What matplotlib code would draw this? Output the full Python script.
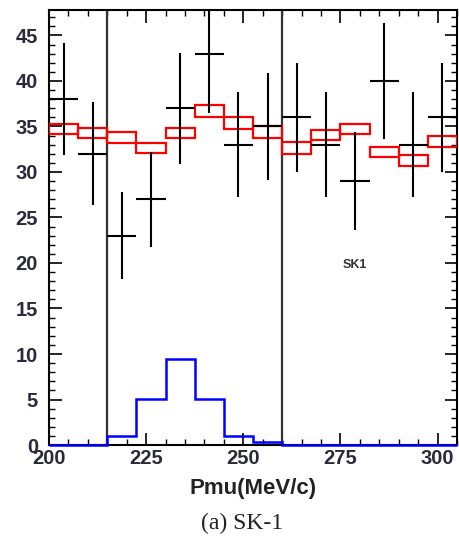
import numpy as np
import matplotlib
matplotlib.use("Agg")
import matplotlib.pyplot as plt
from matplotlib.ticker import MultipleLocator
from matplotlib.font_manager import FontProperties

# Bin edges (MeV/c)
bin_edges = [200, 207.5, 215, 222.5, 230, 237.5, 245, 252.5, 260, 267.5, 275, 282.5, 290, 297.5, 305]
# Observed data counts
data_counts = [38, 32, 23, 27, 37, 43, 33, 35, 36, 33, 29, 40, 33, 36]
# Background MC expectation (box centre) and half-height
mc_center = [34.75, 34.25, 33.8, 32.65, 34.25, 36.7, 35.35, 34.4, 32.65, 34.05, 34.75, 32.15, 31.3, 33.35]
mc_half = [0.55, 0.55, 0.6, 0.55, 0.55, 0.7, 0.65, 0.7, 0.65, 0.55, 0.55, 0.55, 0.6, 0.65]
# Signal MC histogram
signal = [0, 0, 1.0, 5.1, 9.45, 5.1, 1.0, 0.3, 0, 0, 0, 0, 0, 0]
# Signal window cut lines
cut_lines = [215, 260]

edges = np.array(bin_edges)
centers = 0.5 * (edges[:-1] + edges[1:])
widths = np.diff(edges)
data = np.array(data_counts, dtype=float)
mc_c = np.array(mc_center)
mc_h = np.array(mc_half)

fig = plt.figure(figsize=(4.59, 5.37), dpi=100)
ax = fig.add_axes([0.1068, 0.1713, 0.8888, 0.8101])

# cut lines
for c in cut_lines:
    ax.axvline(c, color="#333333", lw=1.6, zorder=2)

# red MC boxes
ax.bar(centers, 2 * mc_h, width=widths, bottom=mc_c - mc_h, fill=False,
       edgecolor="red", linewidth=1.6, zorder=3)

# data with Poisson errors
ax.errorbar(centers, data, xerr=widths / 2, yerr=np.sqrt(data), fmt="none",
            ecolor="black", elinewidth=1.5, capsize=0, zorder=4)

# signal histogram
ax.stairs(signal, edges, color="blue", lw=1.8, zorder=5, clip_on=False)

ax.set_xlim(200, 305)
ax.set_ylim(0, 47.8)

ax.xaxis.set_major_locator(MultipleLocator(25))
ax.xaxis.set_minor_locator(MultipleLocator(5))
ax.yaxis.set_major_locator(MultipleLocator(5))
ax.yaxis.set_minor_locator(MultipleLocator(1))
ax.tick_params(which="both", direction="in", top=True, right=True, color="black")
ax.tick_params(which="major", length=9, width=1.2)
ax.tick_params(which="minor", length=4.5, width=1.0)

for s in ax.spines.values():
    s.set_linewidth(1.5)

fp = FontProperties(family="Liberation Sans", weight="bold", size=14.5)
for lab in ax.get_xticklabels() + ax.get_yticklabels():
    lab.set_fontproperties(fp)
    lab.set_color("#2a2a3a")
ax.tick_params(axis="x", pad=3)
ax.tick_params(axis="y", pad=8)

ax.text(278.6, 19.8, "SK1", fontsize=9, fontweight="bold", family="Liberation Sans",
        color="#333333", ha="center", va="center")

fig.text(0.551, 0.091, "Pmu(MeV/c)", fontsize=16, fontweight="bold",
         family="Liberation Sans", ha="center", va="center", color="#222222")
fig.text(0.527, 0.026, "(a) SK-1", fontsize=17, family="Liberation Serif",
         ha="center", va="center", color="#222222")

fig.savefig("out.png", dpi=100)
